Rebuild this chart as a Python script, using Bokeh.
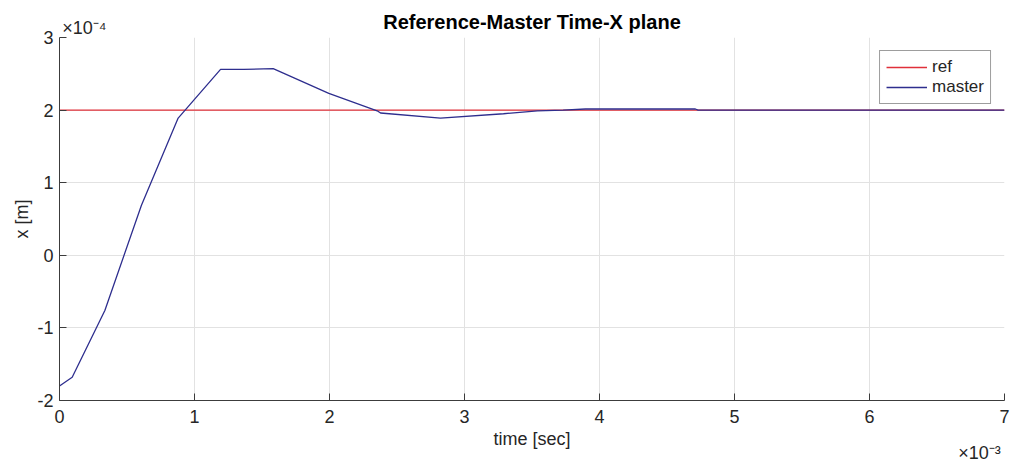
from bokeh.plotting import figure
from bokeh.models import Range1d, FixedTicker, Legend, LegendItem, LinearAxis
from bokeh.embed import file_html
from bokeh.resources import INLINE

# time in units of 1e-3 s, position in units of 1e-4 m
time_ms = [0.0, 0.094, 0.336, 0.607, 0.879, 1.193, 1.365, 1.583, 1.995,
           2.353, 2.378, 2.822, 3.289, 3.54, 3.73, 3.896, 4.71, 4.73, 7.0]
master_x = [-1.80, -1.68, -0.76, 0.69, 1.89, 2.56, 2.56, 2.57, 2.23,
            1.99, 1.96, 1.89, 1.95, 1.99, 2.00, 2.015, 2.015, 2.00, 2.00]
ref_time = [0.0, 7.0]
ref_x = [2.0, 2.0]

x_ticks = [0, 1, 2, 3, 4, 5, 6, 7]
y_ticks = [-2, -1, 0, 1, 2, 3]

FONT = "Liberation Sans"
TXT = "#262626"
AX = "#3c3c3c"
GRID = "#e2e2e2"

p = figure(width=1013, height=465, output_backend="svg", toolbar_location=None,
           x_range=Range1d(0, 7), y_range=Range1d(-2, 3),
           min_border_left=59, min_border_right=9,
           min_border_top=37, min_border_bottom=65)
p.outline_line_color = None
p.background_fill_color = "white"
p.border_fill_color = "white"

for ax, ticks in ((p.xaxis[0], x_ticks), (p.yaxis[0], y_ticks)):
    ax.ticker = FixedTicker(ticks=ticks)
    ax.major_label_overrides = {t: str(t) for t in ticks if t < 0}
    ax.minor_tick_line_color = None
    ax.major_tick_in = 7
    ax.major_tick_out = 0
    ax.axis_line_color = AX
    ax.major_tick_line_color = AX
    ax.major_label_text_font = FONT
    ax.major_label_text_font_size = "18px"
    ax.major_label_text_color = TXT
    ax.axis_label_text_font = FONT
    ax.axis_label_text_font_size = "18px"
    ax.axis_label_text_font_style = "normal"
    ax.axis_label_text_color = TXT

p.xaxis.axis_label = "time [sec]"
p.yaxis.axis_label = "x [m]"
p.xaxis.major_label_standoff = 9
p.xaxis.axis_label_standoff = 3
p.yaxis.major_label_standoff = 6
p.yaxis.axis_label_standoff = 2

p.xgrid.ticker = FixedTicker(ticks=x_ticks)
p.ygrid.ticker = FixedTicker(ticks=y_ticks)
p.grid.grid_line_color = GRID
p.grid.grid_line_width = 1


def bare_axis(**kw):
    """An axis with no line or tick marks, used only to carry text."""
    return LinearAxis(axis_line_color=None, major_tick_line_color=None,
                      minor_tick_line_color=None, major_tick_out=0, major_tick_in=0,
                      major_label_text_font=FONT, major_label_text_color=TXT,
                      axis_label_text_font=FONT, **kw)


# y-axis exponent, written as a tick label near the left end of the top edge
exp_y_pos = 0.185
p.add_layout(bare_axis(ticker=FixedTicker(ticks=[exp_y_pos]),
                       major_label_overrides={exp_y_pos: "\u00d710\u207b\u2074"},
                       major_label_text_font_size="18px",
                       major_label_standoff=0), "above")
# title, further out and centred over the plot
p.add_layout(bare_axis(ticker=FixedTicker(ticks=[]), major_label_standoff=0,
                       axis_label="Reference-Master Time-X plane",
                       axis_label_text_font_size="20px",
                       axis_label_text_font_style="bold",
                       axis_label_text_color="#000000",
                       axis_label_standoff=-18), "above")
# x-axis exponent, under the tick labels at the right end
exp_x_pos = 6.815
p.add_layout(bare_axis(ticker=FixedTicker(ticks=[exp_x_pos]),
                       major_label_overrides={exp_x_pos: "\u00d710\u207b\u00b3"},
                       major_label_text_font_size="18px",
                       major_label_standoff=-9), "below")

r_ref = p.line(ref_time, ref_x, line_color="#e0303a", line_width=1.3)
r_master = p.line(time_ms, master_x, line_color="#2e2e8e", line_width=1.3)

legend = Legend(items=[LegendItem(label="ref", renderers=[r_ref]),
                       LegendItem(label="master", renderers=[r_master])],
                location="top_right", margin=13, padding=6, spacing=0,
                glyph_width=41, glyph_height=18, label_standoff=5,
                label_height=18,
                label_text_font=FONT, label_text_font_size="17px",
                label_text_color=TXT,
                border_line_color=AX, border_line_width=1,
                background_fill_color="white", background_fill_alpha=1)
p.add_layout(legend, "center")

open("out.html", "w").write(file_html(p, INLINE))
